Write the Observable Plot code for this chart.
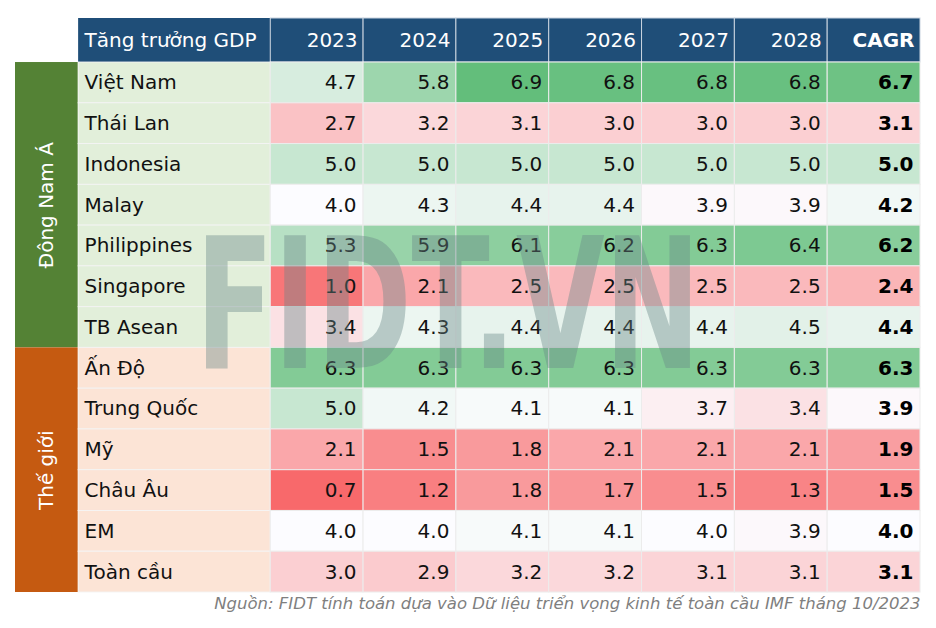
<!DOCTYPE html>
<html>
<head>
<meta charset="utf-8">
<script src="https://cdn.jsdelivr.net/npm/d3@7"></script>
<script src="https://cdn.jsdelivr.net/npm/@observablehq/plot@0.6"></script>
<style>
  html, body { margin: 0; padding: 0; background: #ffffff; }
  #chart svg { display: block; }
</style>
</head>
<body>
<div id="chart"></div>
<script>
// ---- Data ----
const headerLabel = "Tăng trưởng GDP";
const columns = ["2023", "2024", "2025", "2026", "2027", "2028", "CAGR"];
const countries = ["Việt Nam", "Thái Lan", "Indonesia", "Malay", "Philippines", "Singapore", "TB Asean",
                   "Ấn Độ", "Trung Quốc", "Mỹ", "Châu Âu", "EM", "Toàn cầu"];
const groupNames = ["Đông Nam Á", "Thế giới"];
const groupOf = [0, 0, 0, 0, 0, 0, 0, 1, 1, 1, 1, 1, 1];
const gdp = [
  [4.7, 5.8, 6.9, 6.8, 6.8, 6.8, 6.7],
  [2.7, 3.2, 3.1, 3.0, 3.0, 3.0, 3.1],
  [5.0, 5.0, 5.0, 5.0, 5.0, 5.0, 5.0],
  [4.0, 4.3, 4.4, 4.4, 3.9, 3.9, 4.2],
  [5.3, 5.9, 6.1, 6.2, 6.3, 6.4, 6.2],
  [1.0, 2.1, 2.5, 2.5, 2.5, 2.5, 2.4],
  [3.4, 4.3, 4.4, 4.4, 4.4, 4.5, 4.4],
  [6.3, 6.3, 6.3, 6.3, 6.3, 6.3, 6.3],
  [5.0, 4.2, 4.1, 4.1, 3.7, 3.4, 3.9],
  [2.1, 1.5, 1.8, 2.1, 2.1, 2.1, 1.9],
  [0.7, 1.2, 1.8, 1.7, 1.5, 1.3, 1.5],
  [4.0, 4.0, 4.1, 4.1, 4.0, 3.9, 4.0],
  [3.0, 2.9, 3.2, 3.2, 3.1, 3.1, 3.1]
];
const sourceNote = "Nguồn: FIDT tính toán dựa vào Dữ liệu triển vọng kinh tế toàn cầu IMF tháng 10/2023";
const watermark = "FIDT.VN";

// ---- Layout / style (column widths in column units, header height in row units) ----
const layout = { groupW: 0.68, nameW: 2.07, headerH: 1.08 };
const style = {
  font: "DejaVu Sans",
  header: "#1f4e78",
  groupDark: ["#548235", "#c55a11"],
  groupLight: ["#e2efda", "#fce4d6"],
  colorRange: ["#f8696b", "#fcfcff", "#63be7b"]
};

// ---- Derived tables ----
const nameX0 = -layout.nameW;
const groupX0 = -(layout.nameW + layout.groupW);
const cells = [];
gdp.forEach((vals, r) => vals.forEach((v, c) => cells.push({ r, c, v, bold: columns[c] === "CAGR" })));
const rowTable = countries.map((name, r) => ({ name, r, g: groupOf[r] }));
const groupTable = groupNames.map((name, g) => {
  const idx = groupOf.map((gg, i) => gg === g ? i : -1).filter(i => i >= 0);
  return { name, g, start: d3.min(idx), end: d3.max(idx) + 1 };
});
const headerTable = columns.map((label, c) => ({ label, c, bold: label === "CAGR" }));
const allValues = gdp.flat();
const [vmin, vmax] = d3.extent(allValues);
const vmid = d3.median(allValues);
const fmt = d3.format(".1f");

const marks = [];
// header cells
marks.push(Plot.rect([{}], { x1: nameX0, x2: 0, y1: -layout.headerH, y2: 0, fill: style.header }));
marks.push(Plot.rect(headerTable, { x1: "c", x2: d => d.c + 1, y1: -layout.headerH, y2: 0, fill: style.header, stroke: "#c9d3df", strokeWidth: 1 }));
// group label cells + name cells
groupTable.forEach(gt => {
  marks.push(Plot.rect([gt], { x1: groupX0, x2: nameX0, y1: "start", y2: "end", fill: style.groupDark[gt.g] }));
  marks.push(Plot.rect(rowTable.filter(d => d.g === gt.g), { x1: nameX0, x2: 0, y1: "r", y2: d => d.r + 1, fill: style.groupLight[gt.g], stroke: "#f4f4f4", strokeOpacity: 0.9 }));
});
// value cells
marks.push(Plot.rect(cells, { x1: "c", x2: d => d.c + 1, y1: "r", y2: d => d.r + 1, fill: "v", stroke: "#ececec", strokeWidth: 1 }));
// texts
marks.push(Plot.text(groupTable, { x: (groupX0 + nameX0) / 2, y: d => (d.start + d.end) / 2, text: "name", rotate: -90, fill: "white", fontSize: 20 }));
marks.push(Plot.text([headerLabel], { x: nameX0, y: -layout.headerH / 2, text: d => d, textAnchor: "start", dx: 6, fill: "white", fontSize: 20 }));
marks.push(Plot.text(headerTable.filter(d => !d.bold), { x: d => d.c + 1, y: -layout.headerH / 2, text: "label", textAnchor: "end", dx: -6, fill: "white", fontSize: 20 }));
marks.push(Plot.text(headerTable.filter(d => d.bold), { x: d => d.c + 1, y: -layout.headerH / 2, text: "label", textAnchor: "end", dx: -6, fill: "white", fontSize: 20, fontWeight: "bold" }));
marks.push(Plot.text(rowTable, { x: nameX0, y: d => d.r + 0.5, text: "name", textAnchor: "start", dx: 6, fill: "#111", fontSize: 20 }));
marks.push(Plot.text(cells.filter(d => !d.bold), { x: d => d.c + 1, y: d => d.r + 0.5, text: d => fmt(d.v), textAnchor: "end", dx: -7, fill: "#111", fontSize: 20 }));
marks.push(Plot.text(cells.filter(d => d.bold), { x: d => d.c + 1, y: d => d.r + 0.5, text: d => fmt(d.v), textAnchor: "end", dx: -7, fill: "#000", fontSize: 20, fontWeight: "bold" }));
// source note
marks.push(Plot.text([sourceNote], { frameAnchor: "bottom-right", dy: 16, text: d => d, textAnchor: "end", fill: "#7f7f7f", fontSize: 16.5, fontStyle: "italic" }));
// watermark
marks.push(Plot.text([watermark], { frameAnchor: "middle", dx: -20, dy: 4, text: d => d, fontSize: 182, fontWeight: "bold", fill: "#6a8888", fillOpacity: 0.4 }));

const chart = Plot.plot({
  width: 936,
  height: 628,
  marginLeft: 15,
  marginRight: 16,
  marginTop: 18,
  marginBottom: 36,
  style: { fontFamily: style.font, background: "white", overflow: "visible" },
  x: { domain: [groupX0, columns.length], axis: null },
  y: { domain: [-layout.headerH, countries.length], axis: null, reverse: true },
  color: { type: "linear", domain: [vmin, vmid, vmax], range: style.colorRange, interpolate: "rgb" },
  marks
});

d3.select(chart).selectAll("text").filter(function () { return this.textContent === watermark; })
  .attr("textLength", 505).attr("lengthAdjust", "spacingAndGlyphs");

document.getElementById("chart").appendChild(chart);
</script>
</body>
</html>
